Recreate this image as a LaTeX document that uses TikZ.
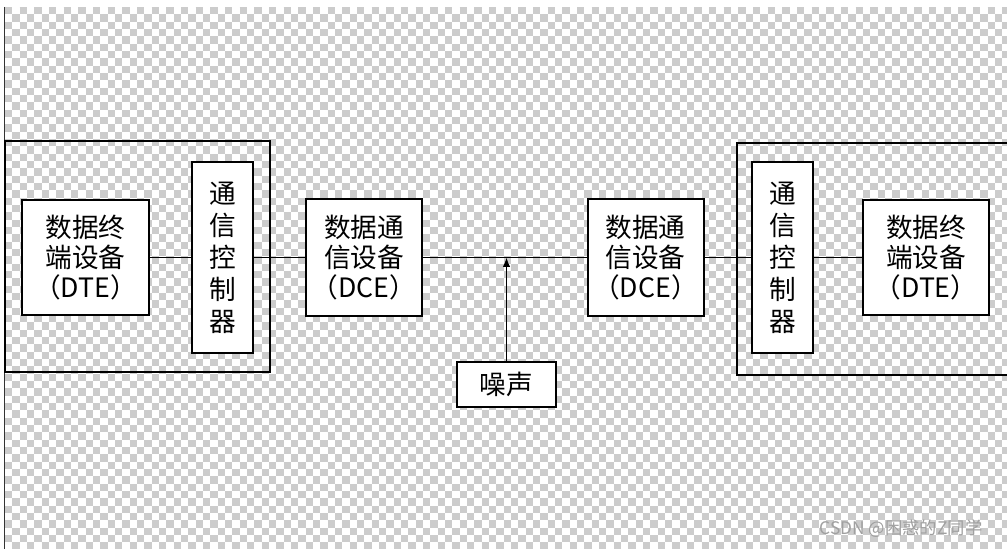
\documentclass[tikz,border=0pt]{standalone}
\usepackage{fontspec}
\newfontfamily\cjk{Noto Sans CJK SC}
\usetikzlibrary{arrows.meta}
\definecolor{chkgrey}{RGB}{204,204,204}
\definecolor{markgrey}{RGB}{160,160,160}

\begin{document}
\begin{tikzpicture}[x=0.75pt,y=-0.75pt,
    box/.style={draw,line width=1.5pt,fill=white,inner sep=0pt,align=center,
      font=\cjk\fontsize{20}{22.5}\selectfont},
    dtebox/.style={box,minimum width=95pt,minimum height=86pt},
    ctlbox/.style={box,minimum width=46pt,minimum height=143pt,
      font=\cjk\fontsize{20}{24}\selectfont},
    dcebox/.style={box,minimum width=87pt,minimum height=88pt},
    frame/.style={line width=1.5pt},
    wire/.style={line width=1pt}]
  \useasboundingbox (0,0) rectangle (1007,549);
  \fill[white] (0,0) rectangle (1007,549);
  % transparency checkerboard
  \begin{scope}
    \clip (5,7) rectangle (1007,549);
    \foreach \r in {0,...,74}{
      \pgfmathsetmacro\ph{mod(\r,2)*5.5}
      \draw[chkgrey,line width=5.5pt,dash pattern=on 5.5pt off 5.5pt,dash phase=\ph pt]
        (5,{7+(\r+0.5)*7.333}) -- (1007,{7+(\r+0.5)*7.333});
    }
  \end{scope}
  \draw[line width=1.2pt,black!80] (4.5,7) -- (4.5,549);

  % outer frames
  \draw[frame] (5,141) rectangle (270,372);
  \draw[frame] (1010,143) -- (737,143) -- (737,375) -- (1010,375);

  % blocks
  \node[dtebox] (dteL) at (85.5,257.5) {数据终\\端设备\\（DTE）};
  \node[ctlbox] (ctlL) at (222.5,257.5) {通\\信\\控\\制\\器};
  \node[dcebox] (dceL) at (364,257.5) {数据通\\信设备\\（DCE）};
  \node[dcebox] (dceR) at (645.5,257.5) {数据通\\信设备\\（DCE）};
  \node[ctlbox] (ctlR) at (782.5,257.5) {通\\信\\控\\制\\器};
  \node[dtebox] (dteR) at (926,257.5) {数据终\\端设备\\（DTE）};
  \node[box,minimum width=74pt,minimum height=34pt] (noise) at (506.5,384.5) {噪声};

  % links
  \draw[wire] (dteL) -- (ctlL);
  \draw[wire] (ctlL) -- (dceL);
  \draw[wire] (dceL) -- (dceR);
  \draw[wire] (dceR) -- (ctlR);
  \draw[wire] (ctlR) -- (dteR);
  \coordinate (hit) at (noise |- dceL.east);
  \draw[wire,-{Latex[length=7pt,width=5.5pt]}] (noise) -- (hit);

  \node[markgrey,font=\cjk\fontsize{13}{15}\selectfont] (mark) at (901,529) {CSDN @困惑的Z同学};
\end{tikzpicture}
\end{document}
